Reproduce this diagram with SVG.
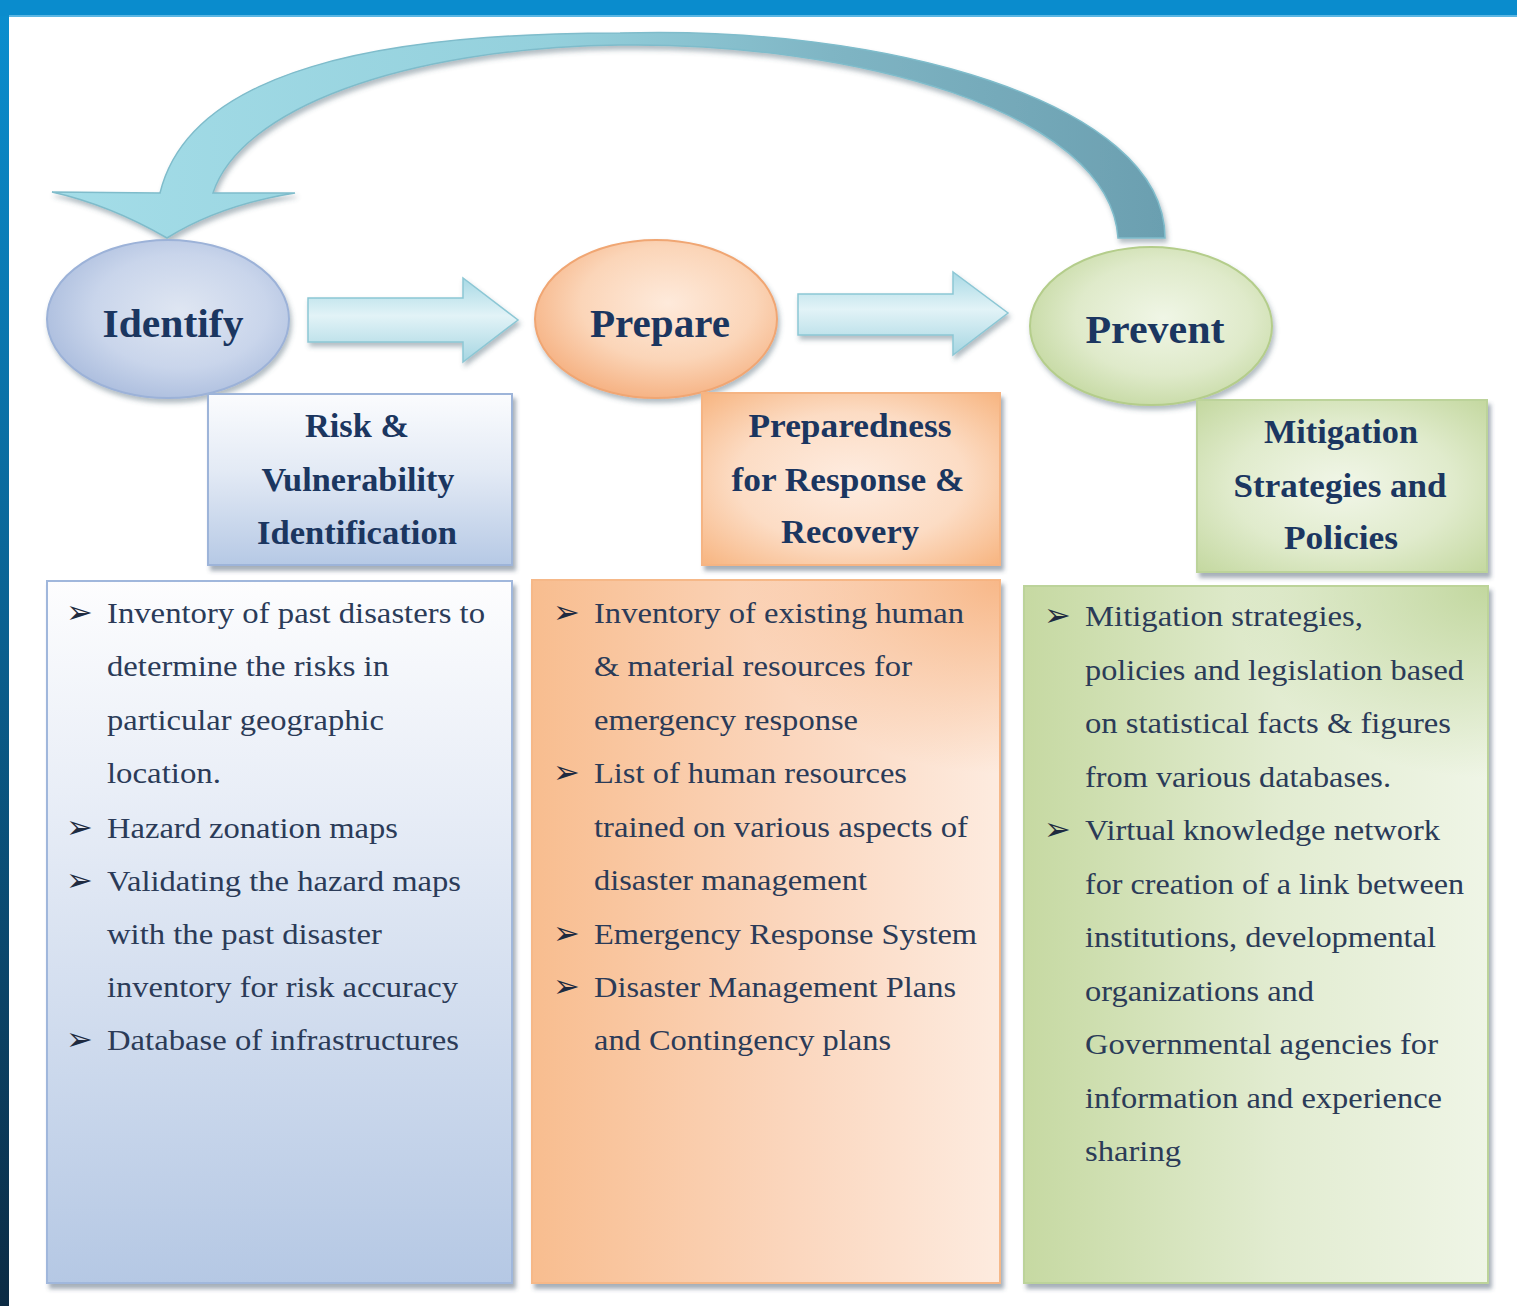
<svg xmlns="http://www.w3.org/2000/svg" width="1517" height="1306" viewBox="0 0 1517 1306">
<defs>
<style>
.h{font-family:'Liberation Serif','Times New Roman',Tinos,serif;font-weight:bold;fill:#1b3660;text-anchor:middle}
.hn{font-size:41px}
.ht{font-size:34px}
.b{font-family:'Liberation Serif','Times New Roman',Tinos,serif;font-size:30px;fill:#2b3b58}
.bl{font-family:'DejaVu Sans',sans-serif;font-size:32px;fill:#1e2a40}
</style>
<filter id="sh" x="-10%" y="-10%" width="125%" height="125%">
<feDropShadow dx="3" dy="5" stdDeviation="2" flood-color="#3e4e66" flood-opacity="0.45"/>
</filter>
<filter id="sh2" x="-10%" y="-10%" width="125%" height="130%">
<feDropShadow dx="2" dy="4" stdDeviation="2.5" flood-color="#3e5a66" flood-opacity="0.4"/>
</filter>
<linearGradient id="leftbar" x1="0" y1="0" x2="0" y2="1">
<stop offset="0" stop-color="#0a8fd0"/><stop offset="0.5" stop-color="#0a5f8e"/><stop offset="1" stop-color="#0c2b44"/>
</linearGradient>
<linearGradient id="arc" x1="0" y1="0" x2="1" y2="0">
<stop offset="0" stop-color="#a4dde8"/><stop offset="0.45" stop-color="#94d0dc"/><stop offset="0.7" stop-color="#7fb5c4"/><stop offset="1" stop-color="#6b9fb0"/>
</linearGradient>
<linearGradient id="blk" x1="0" y1="0" x2="0" y2="1">
<stop offset="0" stop-color="#a8d9e5"/><stop offset="0.45" stop-color="#e2f3f7"/><stop offset="1" stop-color="#a6d6e2"/>
</linearGradient>
<radialGradient id="eBlue" cx="0.55" cy="0.45" r="0.6">
<stop offset="0" stop-color="#dfe6f2"/><stop offset="0.6" stop-color="#c9d5eb"/><stop offset="1" stop-color="#aabcdd"/>
</radialGradient>
<radialGradient id="eOrange" cx="0.55" cy="0.4" r="0.6">
<stop offset="0" stop-color="#feeadb"/><stop offset="0.6" stop-color="#fbd5b8"/><stop offset="1" stop-color="#f6b486"/>
</radialGradient>
<radialGradient id="eGreen" cx="0.55" cy="0.45" r="0.6">
<stop offset="0" stop-color="#f0f6e6"/><stop offset="0.6" stop-color="#dfeaca"/><stop offset="1" stop-color="#c5d9a2"/>
</radialGradient>
<linearGradient id="tBlue" x1="0" y1="0" x2="0" y2="1">
<stop offset="0" stop-color="#fbfcfe"/><stop offset="0.45" stop-color="#e3eaf5"/><stop offset="1" stop-color="#b6c9e5"/>
</linearGradient>
<radialGradient id="tOrange" cx="0.5" cy="0.5" r="0.7">
<stop offset="0" stop-color="#feece0"/><stop offset="0.55" stop-color="#fcdcc4"/><stop offset="1" stop-color="#f7b581"/>
</radialGradient>
<radialGradient id="tGreen" cx="0.5" cy="0.5" r="0.7">
<stop offset="0" stop-color="#f1f6e8"/><stop offset="0.55" stop-color="#e0ebcc"/><stop offset="1" stop-color="#c4d8a0"/>
</radialGradient>
<linearGradient id="cBlue" x1="0" y1="0" x2="0" y2="1">
<stop offset="0" stop-color="#fdfdfe"/><stop offset="0.3" stop-color="#e9eef7"/><stop offset="1" stop-color="#b5c8e4"/>
</linearGradient>
<linearGradient id="cOrange" x1="0" y1="0" x2="1" y2="0">
<stop offset="0" stop-color="#f8bd8f"/><stop offset="0.55" stop-color="#fbd6bd"/><stop offset="1" stop-color="#fdebdf"/>
</linearGradient>
<radialGradient id="cOrangeTop" cx="1" cy="0" r="0.55" gradientTransform="scale(1,0.5)">
<stop offset="0" stop-color="#f7b27f" stop-opacity="0.9"/><stop offset="1" stop-color="#f7b27f" stop-opacity="0"/>
</radialGradient>
<linearGradient id="cGreen" x1="0" y1="0" x2="1" y2="0">
<stop offset="0" stop-color="#c6d9a2"/><stop offset="0.55" stop-color="#e2ecd1"/><stop offset="1" stop-color="#eff5e6"/>
</linearGradient>
<radialGradient id="cGreenTop" cx="1" cy="0" r="0.55" gradientTransform="scale(1,0.5)">
<stop offset="0" stop-color="#bdd497" stop-opacity="0.9"/><stop offset="1" stop-color="#bdd497" stop-opacity="0"/>
</radialGradient>
</defs>

<rect x="0" y="0" width="1517" height="1306" fill="#ffffff"/>
<g id="frame">
<rect x="0" y="0" width="9" height="1306" fill="url(#leftbar)"/>
<rect x="0" y="0" width="1517" height="16" fill="#0a8ccd"/>
<rect x="9" y="15" width="1508" height="2" fill="#5bb6e3"/>
</g>

<g id="connectors">
<path d="M1165,238 C1165,100 880,25 620,33 C380,33 190,70 160,193 L52,192 Q110,205 167,238 Q220,205 295,193 L213,193 C240,110 400,48 620,45 C850,42 1110,110 1118,238 Z" fill="url(#arc)" stroke="#7fbccb" stroke-width="1.5" filter="url(#sh2)"/>
<path d="M308,298 L463,298 L463,278 L518,320 L463,362 L463,342 L308,342 Z" fill="url(#blk)" stroke="#8cc7d5" stroke-width="1.5" filter="url(#sh2)"/>
<path d="M798,294 L953,294 L953,272 L1008,313 L953,355 L953,335 L798,335 Z" fill="url(#blk)" stroke="#8cc7d5" stroke-width="1.5" filter="url(#sh2)"/>
</g>

<g id="identify">
<ellipse cx="168" cy="319" rx="121" ry="79" fill="url(#eBlue)" stroke="#9cb2d8" stroke-width="2" filter="url(#sh2)"/>
<text class="h hn" font-family="Liberation Serif, serif" x="173" y="337" textLength="141" lengthAdjust="spacingAndGlyphs">Identify</text>
</g>
<g id="prepare">
<ellipse cx="656" cy="319" rx="121" ry="79" fill="url(#eOrange)" stroke="#f0a673" stroke-width="2" filter="url(#sh2)"/>
<text class="h hn" font-family="Liberation Serif, serif" x="660" y="337" textLength="140" lengthAdjust="spacingAndGlyphs">Prepare</text>
</g>
<g id="prevent">
<ellipse cx="1151" cy="326" rx="121" ry="79" fill="url(#eGreen)" stroke="#b4cd8b" stroke-width="2" filter="url(#sh2)"/>
<text class="h hn" font-family="Liberation Serif, serif" x="1155" y="343" textLength="139" lengthAdjust="spacingAndGlyphs">Prevent</text>
</g>

<g id="title-risk">
<rect x="208" y="394" width="304" height="171" fill="url(#tBlue)" stroke="#9db4d9" stroke-width="2" filter="url(#sh)"/>
<text class="h ht" x="357" y="437" textLength="104" lengthAdjust="spacingAndGlyphs">Risk &amp;</text>
<text class="h ht" x="358" y="491" textLength="193" lengthAdjust="spacingAndGlyphs">Vulnerability</text>
<text class="h ht" x="357" y="544" textLength="200" lengthAdjust="spacingAndGlyphs">Identification</text>
</g>
<g id="title-preparedness">
<rect x="702" y="393" width="298" height="172" fill="url(#tOrange)" stroke="#f5b483" stroke-width="2" filter="url(#sh)"/>
<text class="h ht" x="850" y="437" textLength="203" lengthAdjust="spacingAndGlyphs">Preparedness</text>
<text class="h ht" x="848" y="491" textLength="233" lengthAdjust="spacingAndGlyphs">for Response &amp;</text>
<text class="h ht" x="850" y="543" textLength="138" lengthAdjust="spacingAndGlyphs">Recovery</text>
</g>
<g id="title-mitigation">
<rect x="1197" y="400" width="290" height="172" fill="url(#tGreen)" stroke="#bcd39a" stroke-width="2" filter="url(#sh)"/>
<text class="h ht" x="1341" y="443" textLength="154" lengthAdjust="spacingAndGlyphs">Mitigation</text>
<text class="h ht" x="1340" y="497" textLength="213" lengthAdjust="spacingAndGlyphs">Strategies and</text>
<text class="h ht" x="1341" y="549" textLength="114" lengthAdjust="spacingAndGlyphs">Policies</text>
</g>

<g id="list-identify">
<rect x="47" y="581" width="465" height="702" fill="url(#cBlue)" stroke="#a0b7dc" stroke-width="2" filter="url(#sh)"/>
<text class="bl" x="66" y="623">➢</text>
<text class="b" x="107" y="623" textLength="378" lengthAdjust="spacingAndGlyphs">Inventory of past disasters to</text>
<text class="b" x="107" y="676" textLength="282" lengthAdjust="spacingAndGlyphs">determine the risks in</text>
<text class="b" x="107" y="730" textLength="277" lengthAdjust="spacingAndGlyphs">particular geographic</text>
<text class="b" x="107" y="783" textLength="114" lengthAdjust="spacingAndGlyphs">location.</text>
<text class="bl" x="66" y="838">➢</text>
<text class="b" x="107" y="838" textLength="291" lengthAdjust="spacingAndGlyphs">Hazard zonation maps</text>
<text class="bl" x="66" y="891">➢</text>
<text class="b" x="107" y="891" textLength="354" lengthAdjust="spacingAndGlyphs">Validating the hazard maps</text>
<text class="b" x="107" y="944" textLength="275" lengthAdjust="spacingAndGlyphs">with the past disaster</text>
<text class="b" x="107" y="997" textLength="351" lengthAdjust="spacingAndGlyphs">inventory for risk accuracy</text>
<text class="bl" x="66" y="1050">➢</text>
<text class="b" x="107" y="1050" textLength="352" lengthAdjust="spacingAndGlyphs">Database of infrastructures</text>
</g>

<g id="list-prepare">
<rect x="532" y="580" width="468" height="703" fill="url(#cOrange)" stroke="#f6b888" stroke-width="2" filter="url(#sh)"/>
<rect x="532" y="580" width="468" height="703" fill="url(#cOrangeTop)"/>
<text class="bl" x="553" y="623">➢</text>
<text class="b" x="594" y="623" textLength="370" lengthAdjust="spacingAndGlyphs">Inventory of existing human</text>
<text class="b" x="594" y="676" textLength="318" lengthAdjust="spacingAndGlyphs">&amp; material resources for</text>
<text class="b" x="594" y="730" textLength="264" lengthAdjust="spacingAndGlyphs">emergency response</text>
<text class="bl" x="553" y="783">➢</text>
<text class="b" x="594" y="783" textLength="313" lengthAdjust="spacingAndGlyphs">List of human resources</text>
<text class="b" x="594" y="837" textLength="374" lengthAdjust="spacingAndGlyphs">trained on various aspects of</text>
<text class="b" x="594" y="890" textLength="273" lengthAdjust="spacingAndGlyphs">disaster management</text>
<text class="bl" x="553" y="944">➢</text>
<text class="b" x="594" y="944" textLength="383" lengthAdjust="spacingAndGlyphs">Emergency Response System</text>
<text class="bl" x="553" y="997">➢</text>
<text class="b" x="594" y="997" textLength="362" lengthAdjust="spacingAndGlyphs">Disaster Management Plans</text>
<text class="b" x="594" y="1050" textLength="297" lengthAdjust="spacingAndGlyphs">and Contingency plans</text>
</g>

<g id="list-prevent">
<rect x="1024" y="586" width="464" height="697" fill="url(#cGreen)" stroke="#bcd39a" stroke-width="2" filter="url(#sh)"/>
<rect x="1024" y="586" width="464" height="697" fill="url(#cGreenTop)"/>
<text class="bl" x="1044" y="626">➢</text>
<text class="b" x="1085" y="626" textLength="278" lengthAdjust="spacingAndGlyphs">Mitigation strategies,</text>
<text class="b" x="1085" y="680" textLength="379" lengthAdjust="spacingAndGlyphs">policies and legislation based</text>
<text class="b" x="1085" y="733" textLength="366" lengthAdjust="spacingAndGlyphs">on statistical facts &amp; figures</text>
<text class="b" x="1085" y="787" textLength="306" lengthAdjust="spacingAndGlyphs">from various databases.</text>
<text class="bl" x="1044" y="840">➢</text>
<text class="b" x="1085" y="840" textLength="355" lengthAdjust="spacingAndGlyphs">Virtual knowledge network</text>
<text class="b" x="1085" y="894" textLength="379" lengthAdjust="spacingAndGlyphs">for creation of a link between</text>
<text class="b" x="1085" y="947" textLength="351" lengthAdjust="spacingAndGlyphs">institutions, developmental</text>
<text class="b" x="1085" y="1001" textLength="229" lengthAdjust="spacingAndGlyphs">organizations and</text>
<text class="b" x="1085" y="1054" textLength="353" lengthAdjust="spacingAndGlyphs">Governmental agencies for</text>
<text class="b" x="1085" y="1108" textLength="357" lengthAdjust="spacingAndGlyphs">information and experience</text>
<text class="b" x="1085" y="1161" textLength="96" lengthAdjust="spacingAndGlyphs">sharing</text>
</g>
</svg>
